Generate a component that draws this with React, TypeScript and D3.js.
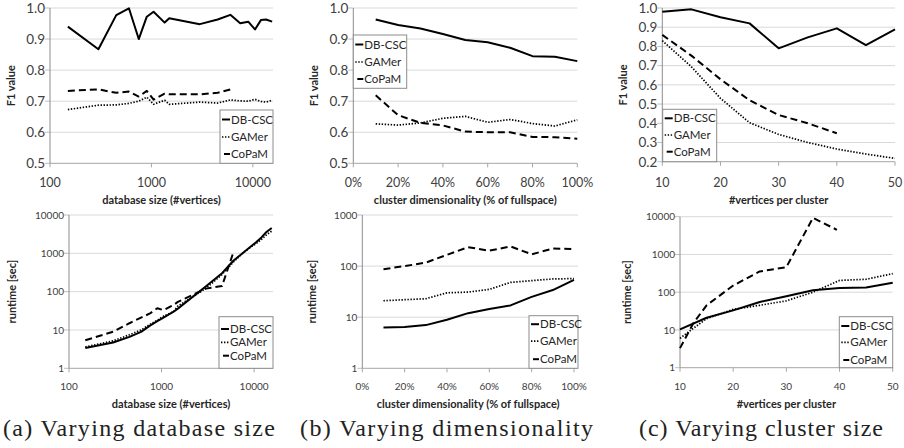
import * as d3 from "d3";

// ---- data ----
const seriesNames = ["DB-CSC", "GAMer", "CoPaM"];

// (a) database size
const sizeX = [150, 300, 450, 600, 750, 900, 1050, 1350, 1500, 3000, 4500, 6000, 7500, 9000, 10500, 12000, 13500, 15500];
const sizeF1Dbcsc = [0.94, 0.867, 0.977, 0.999, 0.9, 0.972, 0.988, 0.953, 0.967, 0.948, 0.963, 0.978, 0.951, 0.956, 0.931, 0.961, 0.963, 0.956];
const sizeF1Gamer = [0.673, 0.687, 0.688, 0.693, 0.7, 0.713, 0.69, 0.703, 0.69, 0.697, 0.694, 0.704, 0.701, 0.7, 0.706, 0.699, 0.697, 0.703];
const sizeF1Copam = [0.733, 0.738, 0.727, 0.731, 0.715, 0.733, 0.705, 0.724, 0.722, 0.722, 0.727, 0.738];
const sizeRtDbcsc = [3.4, 4.7, 6.6, 8.9, 13, 17, 21, 30, 36, 137, 303, 650, 1000, 1440, 1950, 2600, 3540, 4600];
const sizeRtGamer = [3.6, 5.2, 7.5, 10, 14, 18, 23, 30, 42, 120, 280, 600, 1000, 1400, 1800, 2300, 3000, 3800];
const sizeRtCopam = [5.4, 9, 15, 21, 27, 37, 33, 45, 54, 120, 140, 1100];

// (b) dimensionality (% of fullspace)
const dimX = [10, 20, 30, 40, 50, 60, 70, 80, 90, 100];
const dimF1Dbcsc = [0.963, 0.945, 0.934, 0.916, 0.897, 0.89, 0.872, 0.845, 0.843, 0.829];
const dimF1Gamer = [0.627, 0.623, 0.63, 0.645, 0.651, 0.632, 0.641, 0.628, 0.62, 0.64];
const dimF1Copam = [0.719, 0.655, 0.63, 0.622, 0.602, 0.6, 0.6, 0.585, 0.584, 0.579];
const dimRtDbcsc = [6.3, 6.45, 7.0, 8.9, 12, 14.5, 17, 25, 34, 54];
const dimRtGamer = [21, 22, 23, 30, 31, 35, 48, 52, 56, 57];
const dimRtCopam = [87, 100, 117, 166, 235, 200, 243, 170, 221, 216];

// (c) cluster size (#vertices per cluster)
const clusterX = [10, 15, 20, 25, 30, 35, 40, 45, 50];
const clusterXFine = [10, 12.5, 15, 20, 25, 30, 35, 40, 45, 50];
const clusterXCopam = [10, 12.5, 15, 20, 25, 30, 35, 39.5];
const clusterF1Dbcsc = [0.981, 0.993, 0.952, 0.92, 0.79, 0.847, 0.894, 0.807, 0.889];
const clusterF1Gamer = [0.83, 0.694, 0.53, 0.403, 0.342, 0.3, 0.266, 0.24, 0.217];
const clusterF1Copam = [0.86, 0.752, 0.629, 0.52, 0.443, 0.4, 0.348];
const clusterRtDbcsc = [10.4, 21, 33, 55, 78, 112, 129, 134, 178];
const clusterRtGamer = [6, 11, 20, 35, 45, 59, 100, 205, 220, 310];
const clusterRtCopam = [3.3, 15, 45, 150, 355, 460, 9300, 4500];

const f1Ticks05 = [0.5, 0.6, 0.7, 0.8, 0.9, 1.0];
const f1Ticks02 = [0.2, 0.3, 0.4, 0.5, 0.6, 0.7, 0.8, 0.9, 1.0];
const sizeTicks = [100, 1000, 10000];
const pctTicks = [0, 20, 40, 60, 80, 100];
const clusterTicks = [10, 20, 30, 40, 50];
const rtTicks4 = [1, 10, 100, 1000, 10000];
const rtTicks3 = [1, 10, 100, 1000];

const captions = ["(a) Varying database size", "(b) Varying dimensionality", "(c) Varying cluster size"];

const SANS = { fontFamily: "Lato, Roboto, sans-serif" };
const SERIF = { fontFamily: "'Liberation Serif', 'DejaVu Serif', serif" };
const styles = [
  { width: 2, dash: "" },
  { width: 1.7, dash: "1.4,1.6" },
  { width: 2, dash: "7,4" },
];

const pair = (xs, ys) => ys.map((y, i) => [xs[i], y]);

function Panel({ box, xScale, yScale, xTicks, yTicks, xFmt, yFmt, series, legend, xTitle, yTitle, yTitleX, big }) {
  const [x0, x1] = xScale.range();
  const [y0, y1] = yScale.range(); // y0 bottom, y1 top
  const line = d3
    .line()
    .x((d) => xScale(d[0]))
    .y((d) => yScale(d[1]));
  const tickFs = big ? 12.5 : 10;
  const yTickFs = big ? 13.5 : 10;
  return (
    <g>
      {yTicks.map((t) => (
        <g key={"gy" + t}>
          {yScale(t) < y0 - 0.5 && (
            <line x1={x0} x2={box.gridRight} y1={yScale(t)} y2={yScale(t)} stroke="#d9d9d9" />
          )}
          <line x1={x0 - 5} x2={x0} y1={yScale(t)} y2={yScale(t)} stroke="#bfbfbf" />
          <text x={x0 - 5} y={yScale(t) + yTickFs * 0.36} textAnchor="end" fontSize={yTickFs} style={SANS} fill="#404040">
            {yFmt(t)}
          </text>
        </g>
      ))}
      {xTicks.map((t) => (
        <g key={"gx" + t}>
          <line x1={xScale(t)} x2={xScale(t)} y1={y0} y2={y0 + 4} stroke="#a6a6a6" />
          <text x={xScale(t)} y={box.tickY} textAnchor="middle" fontSize={tickFs} style={SANS} fill="#404040">
            {xFmt(t)}
          </text>
        </g>
      ))}
      <line x1={x0} x2={box.gridRight} y1={y0} y2={y0} stroke="#a6a6a6" />
      <line x1={x0} x2={x0} y1={y0} y2={y1} stroke="#8c8c8c" />
      {series.map((s, i) => (
        <path
          key={s.name}
          d={line(s.points)}
          fill="none"
          stroke="#000"
          strokeWidth={styles[i].width}
          strokeDasharray={styles[i].dash}
          strokeLinejoin="round"
        />
      ))}
      <text x={(x0 + x1) / 2} y={box.titleY} textAnchor="middle" fontSize={11} fontWeight="bold" style={SANS} fill="#262626">
        {xTitle}
      </text>
      <text
        transform={`translate(${yTitleX},${(y0 + y1) / 2}) rotate(-90)`}
        textAnchor="middle"
        fontSize={11}
        fontWeight="bold"
        style={SANS}
        fill="#262626"
      >
        {yTitle}
      </text>
      <g>
        <rect x={legend.x} y={legend.y} width={legend.w} height={legend.h} fill="#fff" stroke="#8c8c8c" />
        {series.map((s, i) => {
          const ly = legend.y + legend.rows[i];
          return (
            <g key={"lg" + s.name}>
              <line
                x1={legend.x + (i === 2 ? 4 : 2)}
                x2={legend.x + 10}
                y1={ly}
                y2={ly}
                stroke="#000"
                strokeWidth={styles[i].width}
                strokeDasharray={i === 2 ? "" : styles[i].dash}
              />
              <text x={legend.x + 11} y={ly + 4} fontSize={11.5} style={SANS} fill="#262626">
                {s.name}
              </text>
            </g>
          );
        })}
      </g>
    </g>
  );
}

export default function App() {
  const fmtInt = d3.format("d");
  const fmt1 = d3.format(".1f");
  const fmtPct = (d) => d + "%";

  const mk = (xs, ysList) => ysList.map((ys, i) => ({ name: seriesNames[i], points: pair(xs[i], ys) }));

  // (a)
  const aTopX = d3.scaleLog().domain([100, 15800]).range([50, 273]);
  const aTopY = d3.scaleLinear().domain([0.5, 1.0]).range([163.3, 8]);
  const aBotX = d3.scaleLog().domain([100, 16000]).range([69, 273]);
  const aBotY = d3.scaleLog().domain([1, 10000]).range([368.3, 215]);
  // (b)
  const bTopX = d3.scaleLinear().domain([0, 100]).range([353.3, 577.3]);
  const bTopY = d3.scaleLinear().domain([0.5, 1.0]).range([163.3, 8]);
  const bBotX = d3.scaleLinear().domain([0, 100]).range([362.3, 574]);
  const bBotY = d3.scaleLog().domain([1, 1000]).range([368.3, 215]);
  // (c)
  const cTopX = d3.scaleLinear().domain([10, 50]).range([662.3, 895]);
  const cTopY = d3.scaleLinear().domain([0.2, 1.0]).range([161.7, 8]);
  const cBotX = d3.scaleLinear().domain([10, 50]).range([680, 892.7]);
  const cBotY = d3.scaleLog().domain([1, 10000]).range([367.7, 216.7]);

  const topBox = { tickY: 187, titleY: 204 };
  const botBox = { tickY: 390, titleY: 408 };
  const topRows = [9.5, 27, 44];

  return (
    <svg width={904} height={448} style={{ position: "absolute", left: 0, top: 0, background: "#fff" }}>
      <Panel
        big
        box={{ ...topBox, gridRight: 273 }}
        xScale={aTopX}
        yScale={aTopY}
        xTicks={sizeTicks}
        yTicks={f1Ticks05}
        xFmt={fmtInt}
        yFmt={fmt1}
        series={mk([sizeX, sizeX, sizeX], [sizeF1Dbcsc, sizeF1Gamer, sizeF1Copam])}
        legend={{ x: 220, y: 110, w: 53, h: 53.3, rows: topRows }}
        xTitle="database size (#vertices)"
        yTitle="F1 value"
        yTitleX={15}
      />
      <Panel
        box={{ ...botBox, gridRight: 273 }}
        xScale={aBotX}
        yScale={aBotY}
        xTicks={sizeTicks}
        yTicks={rtTicks4}
        xFmt={fmtInt}
        yFmt={fmtInt}
        series={mk([sizeX, sizeX, sizeX], [sizeRtDbcsc, sizeRtGamer, sizeRtCopam])}
        legend={{ x: 219, y: 316.7, w: 54, h: 51.6, rows: [12.3, 25.6, 39] }}
        xTitle="database size (#vertices)"
        yTitle="runtime [sec]"
        yTitleX={16}
      />
      <Panel
        big
        box={{ ...topBox, gridRight: 577.3 }}
        xScale={bTopX}
        yScale={bTopY}
        xTicks={pctTicks}
        yTicks={f1Ticks05}
        xFmt={fmtPct}
        yFmt={fmt1}
        series={mk([dimX, dimX, dimX], [dimF1Dbcsc, dimF1Gamer, dimF1Copam])}
        legend={{ x: 353.3, y: 35, w: 53.4, h: 53.3, rows: topRows }}
        xTitle="cluster dimensionality (% of fullspace)"
        yTitle="F1 value"
        yTitleX={318}
      />
      <Panel
        box={{ ...botBox, gridRight: 578 }}
        xScale={bBotX}
        yScale={bBotY}
        xTicks={pctTicks}
        yTicks={rtTicks3}
        xFmt={fmtPct}
        yFmt={fmtInt}
        series={mk([dimX, dimX, dimX], [dimRtDbcsc, dimRtGamer, dimRtCopam])}
        legend={{ x: 529, y: 315.7, w: 49, h: 52.6, rows: [8.5, 25.5, 43.5] }}
        xTitle="cluster dimensionality (% of fullspace)"
        yTitle="runtime [sec]"
        yTitleX={316}
      />
      <Panel
        big
        box={{ ...topBox, gridRight: 895 }}
        xScale={cTopX}
        yScale={cTopY}
        xTicks={clusterTicks}
        yTicks={f1Ticks02}
        xFmt={fmtInt}
        yFmt={fmt1}
        series={mk([clusterX, clusterX, clusterX], [clusterF1Dbcsc, clusterF1Gamer, clusterF1Copam])}
        legend={{ x: 662.7, y: 109.3, w: 54, h: 52.4, rows: [9, 25.7, 42.4] }}
        xTitle="#vertices per cluster"
        yTitle="F1 value"
        yTitleX={627}
      />
      <Panel
        box={{ ...botBox, gridRight: 892.7 }}
        xScale={cBotX}
        yScale={cBotY}
        xTicks={clusterTicks}
        yTicks={rtTicks4}
        xFmt={fmtInt}
        yFmt={fmtInt}
        series={mk([clusterX, clusterXFine, clusterXCopam], [clusterRtDbcsc, clusterRtGamer, clusterRtCopam])}
        legend={{ x: 839.3, y: 316.7, w: 53.4, h: 51, rows: [9.3, 25.7, 43.3] }}
        xTitle="#vertices per cluster"
        yTitle="runtime [sec]"
        yTitleX={631}
      />
      {captions.map((c, i) => {
        const spans = [
          [3, 272],
          [300, 293],
          [639, 244],
        ][i];
        return (
          <text
            key={c}
            x={spans[0]}
            y={436}
            style={SERIF}
            fontSize={24}
            textLength={spans[1]}
            lengthAdjust="spacing"
            fill="#222"
          >
            {c}
          </text>
        );
      })}
    </svg>
  );
}
